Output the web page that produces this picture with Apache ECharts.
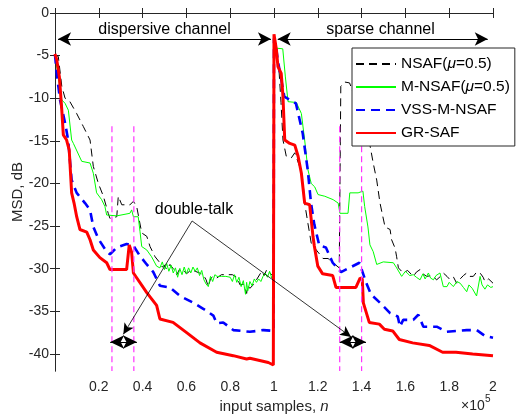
<!DOCTYPE html>
<html>
<head>
<meta charset="utf-8">
<script src="https://cdn.jsdelivr.net/npm/echarts@6/dist/echarts.min.js"></script>
<style>html,body{margin:0;padding:0;background:#fff}#c{width:516px;height:416px}</style>
</head>
<body>
<div id="c"></div>
<script>
// ---- data (x in units of 1e5 samples, y in dB) ----
const seriesNames = ['NSAF(μ=0.5)', 'M-NSAF(μ=0.5)', 'VSS-M-NSAF', 'GR-SAF'];
const yTicks = [-40, -35, -30, -25, -20, -15, -10, -5, 0];
const doubleTalkX = [0.26, 0.36, 1.30, 1.40];
const doubleTalkTop = -13.3;

const nsafX = [0, 0.015, 0.031, 0.046, 0.068, 0.099, 0.129, 0.160, 0.175, 0.198, 0.221, 0.243, 0.251, 0.282, 0.289, 0.305, 0.342, 0.358, 0.373, 0.396, 0.419, 0.434, 0.457, 0.479,
  0.49, 0.50, 0.51, 0.525, 0.54, 0.556, 0.57, 0.586, 0.60, 0.624, 0.64, 0.66, 0.677, 0.69, 0.70, 0.71, 0.72, 0.738, 0.76, 0.784, 0.81, 0.83, 0.845, 0.86, 0.875, 0.88, 0.89, 0.905, 0.92, 0.944, 0.955, 0.967, 0.98, 0.99, 0.998,
  1.0, 1.009, 1.023, 1.032, 1.041, 1.056, 1.079, 1.095, 1.117, 1.132, 1.14, 1.155, 1.170, 1.193, 1.224, 1.247, 1.269, 1.298, 1.305, 1.323, 1.345, 1.40, 1.428, 1.438, 1.453, 1.469, 1.484, 1.507, 1.53, 1.537, 1.553, 1.56, 1.568,
  1.59, 1.61, 1.636, 1.65, 1.667, 1.68, 1.697, 1.72, 1.743, 1.76, 1.773, 1.79, 1.804, 1.82, 1.834, 1.85, 1.865, 1.88, 1.895, 1.91, 1.925, 1.941, 1.955, 1.963, 1.98, 2.0];
const nsafY = [-4.9, -5.1, -8.6, -10.0, -10.4, -11.8, -13.3, -14.9, -18.0, -20.0, -21.5, -23.5, -24.1, -23.9, -21.5, -22.5, -22.5, -22.1, -22.7, -25.8, -26.2, -27.4, -28.6, -29.3,
  -29.8, -29.6, -30.1, -29.5, -30.0, -30.7, -30.0, -30.1, -30.6, -30.1, -30.3, -30.5, -30.7, -31.3, -32.1, -31.2, -30.9, -31.1, -30.7, -30.7, -30.7, -31.0, -31.9, -31.8, -32.9, -32.0, -32.3, -31.9, -31.3, -30.3, -30.8, -30.1, -30.5, -30.7, -30.4,
  -4.5, -5.1, -6.8, -10.5, -14.9, -16.8, -17.0, -16.4, -18.0, -19.6, -22.3, -24.7, -27.0, -27.8, -28.8, -28.8, -29.3, -29.9, -8.6, -8.1, -8.2, -12.0, -14.9, -15.5, -17.6, -19.6, -22.3, -25.1, -25.4, -26.6, -27.6, -28.6, -29.9,
  -30.5, -30.2, -30.9, -30.4, -30.1, -30.6, -30.9, -30.8, -31.3, -30.9, -30.5, -30.9, -31.3, -31.0, -31.7, -31.2, -30.8, -30.5, -30.9, -30.9, -30.4, -30.5, -31.0, -31.5, -31.2, -31.7];

const mnsafX = [0, 0.015, 0.031, 0.046, 0.061, 0.076, 0.084, 0.122, 0.160, 0.175, 0.190, 0.213, 0.228, 0.236, 0.282, 0.342, 0.350, 0.358, 0.380, 0.388, 0.396, 0.419, 0.441, 0.464, 0.479,
  0.49, 0.50, 0.51, 0.52, 0.53, 0.54, 0.55, 0.56, 0.57, 0.58, 0.59, 0.60, 0.61, 0.62, 0.63, 0.64, 0.65, 0.66, 0.67, 0.68, 0.69, 0.70, 0.71, 0.72, 0.73, 0.74, 0.76, 0.78, 0.80, 0.81, 0.82, 0.83, 0.84, 0.85, 0.86, 0.87, 0.875, 0.88, 0.89, 0.90, 0.91, 0.92, 0.93, 0.94, 0.95, 0.96, 0.97, 0.98, 0.99, 0.998,
  1.001, 1.04, 1.052, 1.064, 1.102, 1.125, 1.14, 1.155, 1.170, 1.186, 1.201, 1.232, 1.27, 1.293, 1.301, 1.338, 1.346, 1.384, 1.406, 1.414, 1.429, 1.438, 1.453, 1.469, 1.499, 1.545, 1.56,
  1.583, 1.60, 1.62, 1.636, 1.65, 1.667, 1.68, 1.69, 1.705, 1.715, 1.728, 1.74, 1.758, 1.773, 1.79, 1.80, 1.819, 1.835, 1.85, 1.865, 1.88, 1.89, 1.905, 1.925, 1.941, 1.95, 1.963, 1.975, 1.99, 2.0];
const mnsafY = [-4.9, -7.5, -10.2, -10.6, -11.4, -14.9, -15.3, -17.4, -17.6, -18.8, -21.1, -21.9, -22.7, -23.7, -23.8, -23.5, -23.1, -23.9, -23.9, -25.6, -27.4, -27.8, -28.6, -29.7, -29.9,
  -29.2, -30.1, -29.4, -30.3, -29.6, -30.5, -29.9, -31.0, -30.0, -30.7, -29.8, -30.6, -29.9, -30.5, -29.8, -30.3, -29.9, -30.8, -30.2, -31.3, -31.8, -32.1, -30.9, -31.5, -30.7, -30.9, -30.9, -30.9, -31.0, -31.5, -30.7, -31.6, -31.0, -32.1, -31.4, -33.0, -31.6, -32.6, -31.5, -32.0, -31.2, -31.6, -31.2, -31.5, -30.9, -30.5, -31.0, -30.3, -31.1, -30.8,
  -4.1, -4.2, -7.5, -10.4, -10.5, -11.8, -14.9, -18.4, -20.0, -20.4, -21.3, -21.5, -21.9, -22.3, -23.5, -23.5, -21.1, -21.1, -20.9, -22.7, -25.1, -27.2, -28.0, -29.5, -29.2, -29.3, -29.9,
  -30.9, -30.3, -30.8, -30.7, -31.0, -31.3, -30.6, -31.2, -30.5, -31.1, -31.3, -30.8, -30.5, -32.1, -32.1, -31.6, -32.1, -31.5, -31.7, -32.2, -32.7, -31.9, -32.3, -33.2, -30.9, -31.9, -32.4, -31.9, -32.2, -32.1];

const vssX = [0, 0.008, 0.023, 0.046, 0.060, 0.076, 0.099, 0.137, 0.160, 0.175, 0.198, 0.236, 0.251, 0.282, 0.327, 0.358, 0.388, 0.419, 0.449, 0.479, 0.525, 0.571, 0.632, 0.677, 0.723, 0.738, 0.768, 0.814, 0.89, 0.951, 0.998,
  1.0, 1.01, 1.017, 1.047, 1.10, 1.131, 1.154, 1.169, 1.184, 1.207, 1.237, 1.268, 1.306, 1.344, 1.39, 1.42, 1.443, 1.484, 1.53, 1.565, 1.575, 1.59, 1.636, 1.659, 1.682, 1.743, 1.789, 1.88, 1.926, 1.964, 2.0];
const vssY = [-4.9, -7.1, -10.2, -12.9, -14.9, -19.6, -21.1, -22.3, -23.1, -25.1, -26.5, -28.0, -28.3, -27.5, -27.1, -27.3, -28.5, -29.5, -30.4, -32.0, -32.2, -33.2, -34.0, -34.7, -35.5, -36.4, -36.3, -37.2, -37.4, -37.2, -37.3,
  -3.0, -4.1, -5.5, -9.8, -10.6, -14.1, -18.4, -22.3, -24.8, -27.3, -27.5, -29.3, -30.4, -29.9, -29.3, -31.6, -33.0, -34.0, -35.2, -35.6, -36.8, -36.0, -36.0, -35.4, -36.8, -36.8, -37.4, -37.2, -37.2, -37.9, -38.1];

const grX = [0, 0.008, 0.020, 0.031, 0.038, 0.053, 0.065, 0.076, 0.087, 0.099, 0.114, 0.145, 0.160, 0.175, 0.205, 0.236, 0.251, 0.327, 0.339, 0.350, 0.358, 0.419, 0.464, 0.479, 0.539, 0.601, 0.662, 0.738, 0.814, 0.875, 0.89, 0.974, 0.997,
  1.0, 1.011, 1.018, 1.033, 1.041, 1.049, 1.072, 1.095, 1.110, 1.125, 1.140, 1.163, 1.178, 1.184, 1.200, 1.222, 1.268, 1.283, 1.374, 1.393, 1.403, 1.408, 1.435, 1.481, 1.504, 1.542, 1.572, 1.633, 1.709, 1.770, 1.831, 1.907, 2.0];
const grY = [-4.8, -5.5, -7.5, -11.4, -14.3, -14.9, -16.1, -21.1, -22.3, -23.9, -25.4, -25.7, -26.6, -27.8, -28.7, -29.3, -30.1, -30.1, -27.2, -28.1, -30.5, -32.8, -34.3, -35.9, -36.3, -37.5, -38.7, -39.8, -40.2, -40.6, -40.5, -41.0, -41.3,
  -2.5, -4.3, -6.3, -7.1, -9.8, -14.9, -15.3, -15.5, -16.8, -18.8, -22.3, -22.5, -26.2, -27.3, -29.7, -30.6, -30.8, -32.2, -32.2, -31.1, -31.2, -34.0, -36.3, -36.5, -37.1, -37.3, -38.3, -38.7, -39.0, -39.8, -39.8, -40.0, -40.2];

const zip = (xs, ys) => xs.map((x, i) => [x, ys[i]]);

const axisColor = '#262626';
const font = '"Liberation Sans", Arial, sans-serif';

const chart = echarts.init(document.getElementById('c'), null, { renderer: 'canvas' });

const lineSeries = [
  { name: seriesNames[0], data: zip(nsafX, nsafY), color: '#000000', width: 1, type: [8, 5] },
  { name: seriesNames[1], data: zip(mnsafX, mnsafY), color: '#00ff00', width: 1, type: 'solid' },
  { name: seriesNames[2], data: zip(vssX, vssY), color: '#0000ff', width: 2.6, type: [9, 6] },
  { name: seriesNames[3], data: zip(grX, grY), color: '#ff0000', width: 3, type: 'solid' }
].map(s => ({
  type: 'line', name: s.name, data: s.data, showSymbol: false, symbol: 'none',
  color: s.color, lineStyle: { color: s.color, width: s.width, type: s.type }, z: 2, silent: true
}));

const dtSeries = doubleTalkX.map((x, i) => ({
  type: 'line', name: 'dt' + i, data: [[x, doubleTalkTop], [x, -42]], showSymbol: false, symbol: 'none',
  lineStyle: { color: '#ff33ff', width: 1.2, type: [6, 4] }, z: 3, silent: true
}));

const arrowBlack = '#000';
const annoSeries = {
  type: 'line', name: 'anno', data: [[0.5, -20]], showSymbol: false, symbol: 'none', lineStyle: { opacity: 0 }, z: 4, silent: true,
  markLine: {
    silent: true, animation: false, label: { show: false },
    lineStyle: { color: arrowBlack, width: 1, type: 'solid' },
    symbol: ['arrow', 'arrow'], symbolSize: [10, 13],
    data: [
      [{ coord: [0.014, -3.05] }, { coord: [0.986, -3.05] }],
      [{ coord: [1.017, -3.05] }, { coord: [1.976, -3.05] }],
      [{ coord: [0.252, -38.6], symbolSize: [10, 14] }, { coord: [0.374, -38.6], symbolSize: [10, 14] }],
      [{ coord: [1.300, -38.6], symbolSize: [10, 14] }, { coord: [1.420, -38.6], symbolSize: [10, 14] }],
      [{ coord: [0.626, -24.4], symbol: 'none', lineStyle: { width: 0.8 } }, { coord: [0.312, -37.7], symbol: 'arrow', symbolSize: [8, 11], lineStyle: { width: 0.8 } }],
      [{ coord: [0.626, -24.4], symbol: 'none', lineStyle: { width: 0.8 } }, { coord: [1.352, -38.0], symbol: 'arrow', symbolSize: [8, 11], lineStyle: { width: 0.8 } }]
    ]
  }
};

const tickStyle = { show: true, inside: true, length: 5, lineStyle: { color: axisColor, width: 1 } };
const lineStyleAxis = { show: true, lineStyle: { color: axisColor, width: 1 } };
const legendFont = 15.5;

chart.setOption({
  animation: false,
  backgroundColor: '#ffffff',
  grid: { left: 55, right: 23, top: 13, bottom: 45, containLabel: false, show: false },
  xAxis: [
    {
      type: 'value', min: 0, max: 2, interval: 0.2, position: 'bottom',
      axisLine: lineStyleAxis, axisTick: tickStyle, splitLine: { show: false },
      axisLabel: {
        margin: 9, color: axisColor, fontSize: 14, fontFamily: font,
        formatter: v => (Math.abs(v) < 1e-9 ? '' : String(parseFloat(v.toFixed(1))))
      }
    },
    {
      type: 'value', min: 0, max: 2, interval: 0.2, position: 'top',
      axisLine: lineStyleAxis, axisTick: tickStyle, splitLine: { show: false }, axisLabel: { show: false }
    }
  ],
  yAxis: [
    {
      type: 'value', min: -42, max: 0, position: 'left',
      axisLine: lineStyleAxis,
      axisTick: Object.assign({}, tickStyle, { customValues: yTicks }),
      splitLine: { show: false },
      axisLabel: { margin: 6, color: axisColor, fontSize: 14, fontFamily: font, customValues: yTicks }
    },
    {
      type: 'value', min: -42, max: 0, position: 'right',
      axisLine: lineStyleAxis,
      axisTick: Object.assign({}, tickStyle, { customValues: yTicks }),
      splitLine: { show: false }, axisLabel: { show: false }
    }
  ],
  legend: {
    data: seriesNames, orient: 'vertical', left: 352, top: 48,
    itemWidth: 40, itemHeight: 14, itemGap: 7, padding: [8, 5, 5, 3],
    backgroundColor: '#ffffff', borderColor: axisColor, borderWidth: 1, borderRadius: 0,
    selectedMode: false,
    itemStyle: { opacity: 0 },
    textStyle: {
      color: '#000', fontSize: legendFont, fontFamily: font,
      rich: {
        a: { fontSize: legendFont, fontFamily: font, color: '#000' },
        i: { fontSize: legendFont, fontFamily: font, fontStyle: 'italic', color: '#000' }
      }
    },
    formatter: name => {
      const k = name.indexOf('μ');
      if (k < 0) return '{a|' + name + '}';
      return '{a|' + name.slice(0, k) + '}{i|μ}{a|' + name.slice(k + 1) + '}';
    }
  },
  series: lineSeries.concat(dtSeries, [annoSeries]),
  graphic: [
    { type: 'text', x: 164.5, y: 29.5, z: 10, style: { text: 'dispersive channel', font: '16px ' + font, fill: '#000', align: 'center', verticalAlign: 'middle' } },
    { type: 'text', x: 380.5, y: 29.5, z: 10, style: { text: 'sparse channel', font: '16px ' + font, fill: '#000', align: 'center', verticalAlign: 'middle' } },
    { type: 'text', x: 194, y: 210, z: 10, style: { text: 'double-talk', font: '16px ' + font, fill: '#000', align: 'center', verticalAlign: 'middle' } },
    { type: 'text', x: 274, y: 407, z: 10, style: {
        text: '{a|input samples, }{b|n}', align: 'center', verticalAlign: 'middle',
        rich: { a: { font: '15px ' + font, fill: axisColor, color: axisColor }, b: { font: 'italic 15px ' + font, fill: axisColor, color: axisColor } } } },
    { type: 'text', x: 461, y: 406, z: 10, style: { text: '×10', font: '14px ' + font, fill: axisColor, align: 'left', verticalAlign: 'middle' } },
    { type: 'text', x: 485, y: 399, z: 10, style: { text: '5', font: '10px ' + font, fill: axisColor, align: 'left', verticalAlign: 'middle' } },
    { type: 'text', x: 18, y: 192, rotation: Math.PI / 2, z: 10, style: { text: 'MSD, dB', font: '15px ' + font, fill: axisColor, align: 'center', verticalAlign: 'middle' } }
  ]
});
</script>
</body>
</html>
